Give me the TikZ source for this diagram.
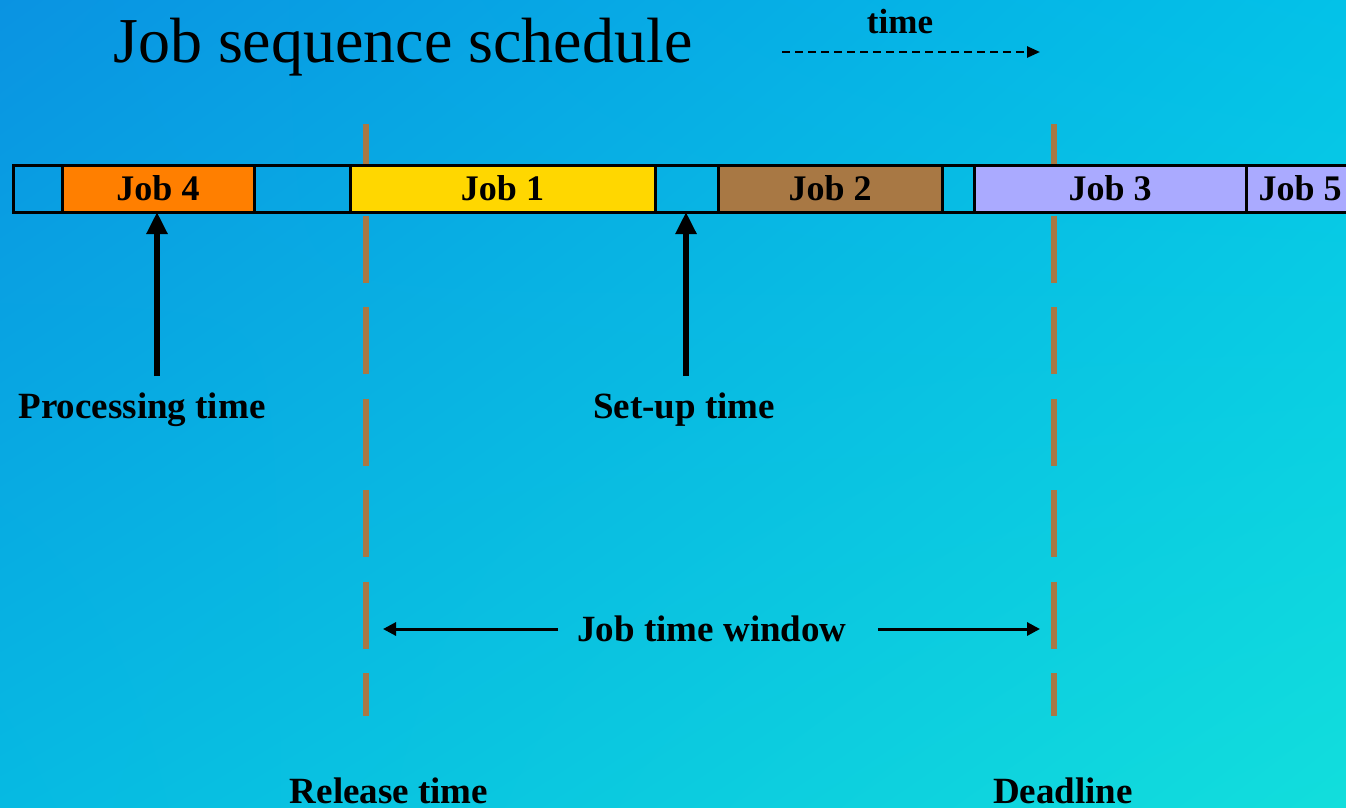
\documentclass[tikz,border=0pt]{standalone}
\usepackage{fontspec}
\setmainfont{Liberation Serif}
\usetikzlibrary{arrows.meta,shadings}
\definecolor{bgTL}{HTML}{0A93E2}
\definecolor{bgTR}{HTML}{03C2E8}
\definecolor{bgBL}{HTML}{06BAE2}
\definecolor{bgBR}{HTML}{12DEDC}
\definecolor{joborange}{HTML}{FF7F00}
\definecolor{jobyellow}{HTML}{FFD700}
\definecolor{jobbrown}{HTML}{A87844}
\definecolor{joblav}{HTML}{AAAAFF}
\definecolor{dlbrown}{HTML}{A87844}
\tikzset{
  seg/.style={draw=black, line width=3pt, anchor=west, minimum height=47pt, inner sep=0pt, outer sep=0pt,
    font=\fontsize{36}{40}\selectfont\bfseries},
  lbl/.style={font=\fontsize{37}{40}\selectfont\bfseries, inner sep=0pt, anchor=base},
  deadline/.style={draw=dlbrown, line width=6pt, dash pattern=on 67pt off 24.5pt},
  bigarrow/.style={line width=6pt, -{Triangle[length=22pt,width=20pt]}},
  winarrow/.style={line width=3pt, -{Triangle[length=13pt,width=13pt]}},
  timearrow/.style={line width=2.5pt, dash pattern=on 8pt off 5pt, -{Triangle[length=13pt,width=11pt]}}
}
\begin{document}
\begin{tikzpicture}[x=1pt,y=-1pt]
\useasboundingbox (0,0) rectangle (1346,807);
\clip (0,0) rectangle (1346,807);
\shade[upper left=bgTL, upper right=bgTR, lower left=bgBL, lower right=bgBR] (0,0) rectangle (1346,807);

% title and time arrow
\node[font=\fontsize{64}{70}\selectfont, inner sep=0pt, anchor=base west] (title) at (113,62) {Job sequence schedule};
\node[lbl, font=\fontsize{35}{40}\selectfont\bfseries] (time) at (900,33) {time};
\coordinate (ts) at (782,52);
\coordinate (te) at (1040,52);
\draw[timearrow] (ts) -- (te);

% release time / deadline dashed lines
\coordinate (r1) at (366,124);
\coordinate (r2) at (366,716);
\coordinate (d1) at (1054,124);
\coordinate (d2) at (1054,716);
\draw[deadline] (r1) -- (r2);
\draw[deadline] (d1) -- (d2);

% schedule bar
\node[seg, minimum width=49pt] (s0) at (13,188.5) {};
\node[seg, minimum width=192pt, fill=joborange] (job4) at (62,188.5) {Job 4};
\node[seg, minimum width=96pt] (s1) at (254,188.5) {};
\node[seg, minimum width=305pt, fill=jobyellow] (job1) at (350,188.5) {Job 1};
\node[seg, minimum width=63pt] (s2) at (655,188.5) {};
\node[seg, minimum width=224pt, fill=jobbrown] (job2) at (718,188.5) {Job 2};
\node[seg, minimum width=32pt] (s3) at (942,188.5) {};
\node[seg, minimum width=272pt, fill=joblav] (job3) at (974,188.5) {Job 3};
\node[seg, minimum width=108pt, fill=joblav] (job5) at (1246,188.5) {Job 5};

% processing / setup arrows
\node[lbl] (proc) at (142,418) {Processing time};
\node[lbl] (setup) at (684,418) {Set-up time};
\coordinate (pa) at (157,376);
\coordinate (sa) at (686,376);
\draw[bigarrow] (pa) -- (pa |- job4.south);
\draw[bigarrow] (sa) -- (sa |- s2.south);

% job time window
\node[lbl] (win) at (712,641) {Job time window};
\coordinate (wl) at (383,629);
\coordinate (wr) at (1040,629);
\draw[winarrow] ([xshift=-19pt]win.west |- wl) -- (wl);
\draw[winarrow] ([xshift=31pt]win.east |- wr) -- (wr);

% bottom labels
\node[lbl] (rel) at (389,803) {Release time};
\node[lbl] (dead) at (1063,803) {Deadline};
\end{tikzpicture}
\end{document}
